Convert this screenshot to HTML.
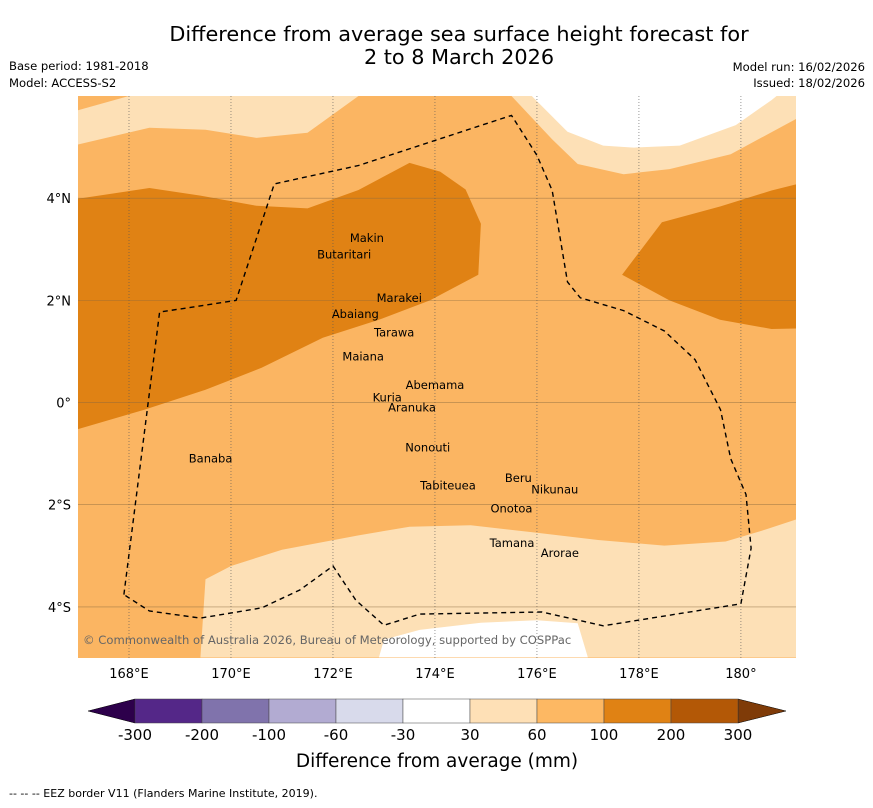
<!DOCTYPE html>
<html><head><meta charset="utf-8"><style>
body{margin:0;background:#fff;font-family:"DejaVu Sans","Liberation Sans",sans-serif}
svg text{font-family:"DejaVu Sans","Liberation Sans",sans-serif}
</style></head><body>
<svg id="chart" width="873" height="804" xmlns="http://www.w3.org/2000/svg">
<rect width="873" height="804" fill="#fff"/>
<text x="459" y="41" font-size="20.8" text-anchor="middle">Difference from average sea surface height forecast for</text>
<text x="459" y="64" font-size="20.8" text-anchor="middle">2 to 8 March 2026</text>
<text x="9" y="70" font-size="11.6">Base period: 1981-2018</text>
<text x="9" y="87" font-size="11.6">Model: ACCESS-S2</text>
<text x="865" y="71" font-size="11.6" text-anchor="end">Model run: 16/02/2026</text>
<text x="865" y="87" font-size="11.6" text-anchor="end">Issued: 18/02/2026</text>
<g id="map"></g>
<g id="cbar"></g>
<text x="437" y="767" font-size="18.5" text-anchor="middle">Difference from average (mm)</text>
<text x="9" y="797" font-size="11">--  --  -- EEZ border V11 (Flanders Marine Institute, 2019).</text>
</svg>
<script>
const lonTicks=[168,170,172,174,176,178,180];
const lonLabels=["168°E","170°E","172°E","174°E","176°E","178°E","180°"];
const latTicks=[4,2,0,-2,-4];
const latLabels=["4°N","2°N","0°","2°S","4°S"];
const cbBounds=[-300,-200,-100,-60,-30,30,60,100,200,300];
const cbColors=["#542788","#8073ac","#b2abd2","#d8daeb","#ffffff","#fee0b6","#fdb863","#e08214","#b35806"];
const cbLabels=["-300","-200","-100","-60","-30","30","60","100","200","300"];
// contour regions [lon,lat]
const lightTopLeft=[[167,5.72],[168,6],[172.5,6],[171.5,5.28],[170.5,5.18],[169.5,5.34],[168.4,5.38],[167,5.05]];
const lightTopRight=[[175.5,6],[176.3,5.15],[176.8,4.67],[177.7,4.47],[178.6,4.57],[179.8,4.86],[181.08,5.55],[181.08,6]];
const whiteTopRight=[[175.9,6],[176.6,5.3],[177.3,5.03],[177.9,4.99],[178.8,5.03],[179.9,5.43],[180.6,5.92],[180.7,6]];
const darkLeft=[[167,3.99],[168.4,4.2],[169.4,4.05],[170.5,3.85],[171.5,3.8],[172.5,4.16],[173.5,4.69],[174.1,4.52],[174.6,4.17],[174.9,3.5],[174.85,2.5],[173.9,2.0],[172.9,1.62],[171.8,1.27],[170.6,0.68],[169.5,0.25],[168.3,-0.14],[167,-0.52]];
const darkRight=[[177.67,2.5],[178.45,3.53],[179.6,3.84],[180.6,4.15],[181.08,4.27],[181.08,1.45],[180.6,1.44],[179.59,1.62],[178.6,2.0]];
const lightBottom=[[169.5,-3.46],[170,-3.2],[171,-2.88],[172.5,-2.6],[173.5,-2.43],[174.7,-2.4],[176,-2.55],[177.2,-2.69],[178.5,-2.8],[179.7,-2.72],[180.5,-2.48],[181.08,-2.29],[181.08,-4.99],[169.4,-4.99]];
const whiteBottom=[[172.9,-4.99],[173,-4.64],[173.7,-4.45],[174.9,-4.31],[176,-4.26],[176.8,-4.32],[177,-4.99]];
const eez=[[167.9,-3.76],[168.6,1.77],[170.1,2.0],[170.85,4.28],[172.5,4.64],[175.5,5.62],[176.0,4.84],[176.3,4.15],[176.6,2.36],[176.85,2.05],[177.7,1.8],[178.5,1.4],[179.1,0.84],[179.6,-0.14],[179.8,-1.1],[180.1,-1.8],[180.2,-2.85],[180.0,-3.94],[177.3,-4.37],[176.1,-4.1],[173.7,-4.14],[173.0,-4.36],[172.45,-3.87],[172.0,-3.2],[171.35,-3.67],[170.6,-4.02],[169.4,-4.22],[168.4,-4.08]];
const islands=[["Makin",173.0,3.22,"end"],["Butaritari",172.75,2.9,"end"],["Marakei",173.3,2.05,"middle"],["Abaiang",172.9,1.73,"end"],["Tarawa",173.2,1.37,"middle"],["Maiana",173.0,0.9,"end"],["Abemama",174.0,0.34,"middle"],["Kuria",173.35,0.1,"end"],["Aranuka",173.55,-0.1,"middle"],["Nonouti",174.3,-0.88,"end"],["Banaba",169.6,-1.1,"middle"],["Beru",175.9,-1.48,"end"],["Nikunau",176.35,-1.7,"middle"],["Tabiteuea",174.8,-1.62,"end"],["Onotoa",175.5,-2.07,"middle"],["Tamana",175.95,-2.75,"end"],["Arorae",176.45,-2.94,"middle"]];
const X0=78,X1=796,Y0=96,Y1=658,LON0=167,LON1=181.08,LAT0=6,LAT1=-5;
const sx=l=>X0+(l-LON0)/(LON1-LON0)*(X1-X0);
const sy=l=>Y0+(l-LAT0)/(LAT1-LAT0)*(Y1-Y0);
const NS="http://www.w3.org/2000/svg";
function mk(p,t,a){const e=document.createElementNS(NS,t);for(const k in a)e.setAttribute(k,a[k]);p.appendChild(e);return e;}
const pts=a=>a.map(p=>sx(p[0]).toFixed(1)+","+sy(p[1]).toFixed(1)).join(" ");
const map=document.getElementById("map");
const defs=mk(map,"clipPath",{id:"clip"});mk(defs,"rect",{x:X0,y:Y0,width:X1-X0,height:Y1-Y0});
const g=mk(map,"g",{"clip-path":"url(#clip)"});
let bg=mk(g,"rect",{x:X0,y:Y0,width:X1-X0,height:Y1-Y0,fill:"#fbb562"});


const regions=[[lightTopLeft,"#fde0b6","contour-30-60-northwest"],[lightTopRight,"#fde0b6","contour-30-60-northeast"],[whiteTopRight,"#ffffff","contour-neutral-northeast"],[darkLeft,"#e08214","contour-100-200-west"],[darkRight,"#e08214","contour-100-200-east"],[lightBottom,"#fde0b6","contour-30-60-south"],[whiteBottom,"#ffffff","contour-neutral-south"]];
regions.forEach(r=>{const e=mk(g,"polygon",{points:pts(r[0]),fill:r[1]});

});
lonTicks.forEach((l,i)=>{const e=mk(g,"line",{x1:sx(l),x2:sx(l),y1:Y0,y2:Y1,stroke:"#555","stroke-width":0.6,"stroke-dasharray":"1,2"});


const t=mk(map,"text",{x:sx(l),y:678,"font-size":13,"text-anchor":"middle"});t.textContent=lonLabels[i];

});
latTicks.forEach((l,i)=>{const e=mk(g,"line",{x1:X0,x2:X1,y1:sy(l),y2:sy(l),stroke:"#8a6a40","stroke-width":0.6,"stroke-opacity":0.7});


const t=mk(map,"text",{x:71,y:sy(l)+5,"font-size":13,"text-anchor":"end"});t.textContent=latLabels[i];

});
const ez=mk(g,"polygon",{points:pts(eez),fill:"none",stroke:"#000","stroke-width":1.4,"stroke-dasharray":"5,4"});


islands.forEach(s=>{const t=mk(g,"text",{x:sx(s[1]),y:sy(s[2])+4,"font-size":11.5,"text-anchor":s[3]});t.textContent=s[0];

});
const cp=mk(g,"text",{x:83,y:644,"font-size":11.6,fill:"#666"});cp.textContent="© Commonwealth of Australia 2026, Bureau of Meteorology, supported by COSPPac";


// colorbar
const cb=document.getElementById("cbar");
const CB0=135,CB1=738,CY=699,CH=24,segW=(CB1-CB0)/cbColors.length;
const lt=mk(cb,"polygon",{points:`${CB0},${CY} ${CB0},${CY+CH} 88,${CY+CH/2}`,fill:"#2d004b",stroke:"#000","stroke-width":0.5});


const rt=mk(cb,"polygon",{points:`${CB1},${CY} ${CB1},${CY+CH} 786,${CY+CH/2}`,fill:"#7f3b08",stroke:"#000","stroke-width":0.5});


cbColors.forEach((c,i)=>{const e=mk(cb,"rect",{x:CB0+i*segW,y:CY,width:segW,height:CH,fill:c,stroke:"#444","stroke-width":0.5});

});
cbBounds.forEach((b,i)=>{const t=mk(cb,"text",{x:CB0+i*segW,y:740,"font-size":15,"text-anchor":"middle"});t.textContent=cbLabels[i];

});
</script>
</body></html>
